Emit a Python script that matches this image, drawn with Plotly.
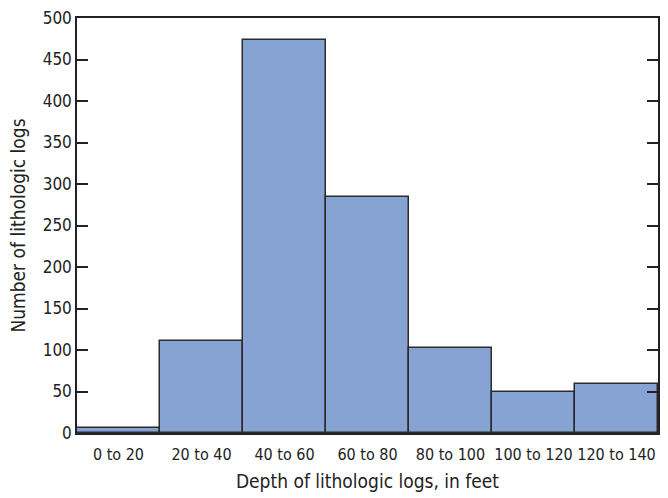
import plotly.graph_objects as go

categories = ["0 to 20", "20 to 40", "40 to 60", "60 to 80", "80 to 100", "100 to 120", "120 to 140"]
counts = [6, 111, 473, 284, 103, 49, 59]

FONT = "DejaVu Sans Condensed, Liberation Sans Narrow, sans-serif"

fig = go.Figure()
fig.add_trace(go.Bar(
    x=categories, y=counts,
    marker=dict(color="#87A3D3", line=dict(color="#2b2b2b", width=1.5)),
    width=1.0,
))
fig.update_layout(
    width=668, height=498,
    margin=dict(l=77, r=8, t=15, b=65),
    paper_bgcolor="white", plot_bgcolor="white",
    bargap=0,
    showlegend=False,
    font=dict(family=FONT, size=16, color="#222"),
)
fig.update_xaxes(
    showline=True, linecolor="#222", linewidth=1.5, mirror=True,
    ticks="outside", ticklen=6, tickcolor="rgba(0,0,0,0)", showgrid=False,
    tickfont=dict(size=16, family=FONT, color="#222"),
    title=dict(text="Depth of lithologic logs, in feet", font=dict(size=19, family=FONT, color="#222"), standoff=12),
)
fig.update_yaxes(
    range=[0, 500], dtick=50, tick0=0,
    showline=True, linecolor="#222", linewidth=1.5, mirror="ticks",
    ticks="inside", ticklen=11, tickwidth=1.5, tickcolor="#222",
    showgrid=False, zeroline=False,
    tickfont=dict(size=17, family=FONT, color="#222"),
    title=dict(text="Number of lithologic logs", font=dict(size=19, family=FONT, color="#222"), standoff=12),
)
fig.write_html("out.html")
